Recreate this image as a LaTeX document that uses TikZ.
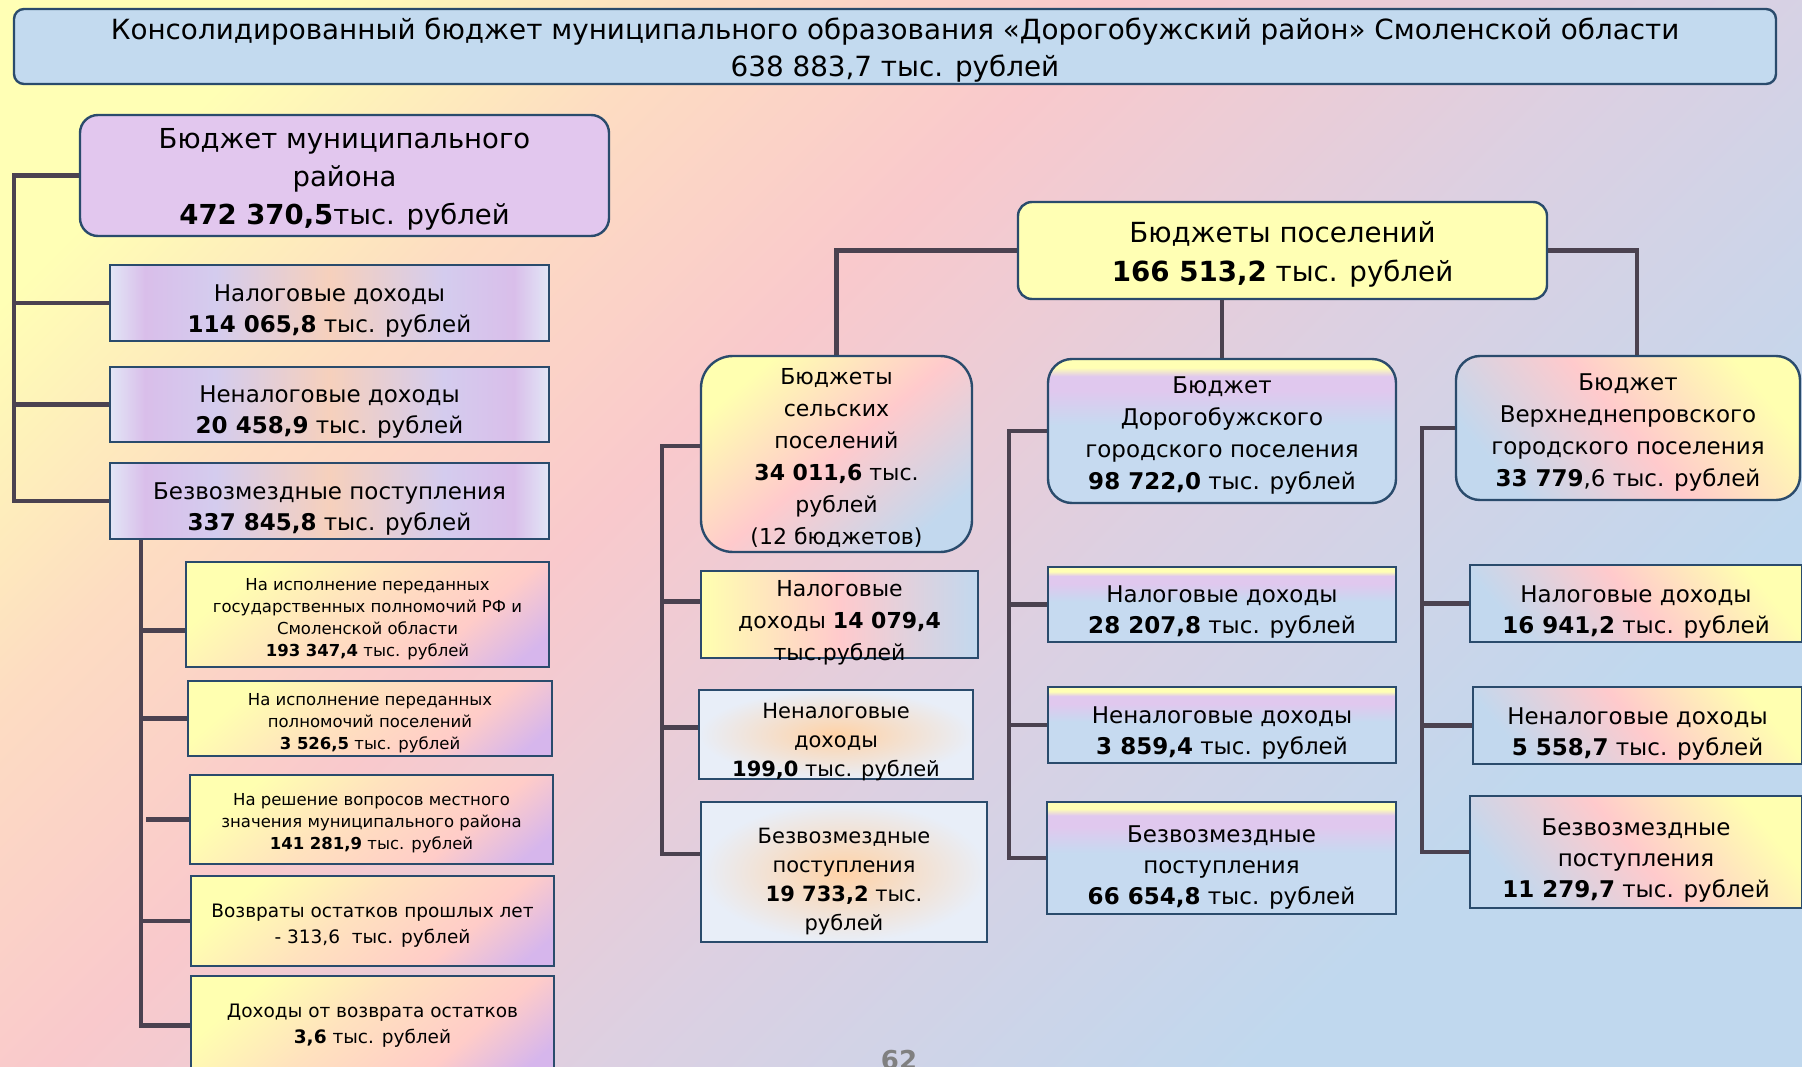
\documentclass[tikz,border=0pt]{standalone}
\usepackage{fontspec}
\setmainfont{DejaVu Sans}
\usetikzlibrary{shapes.misc,calc}
\definecolor{bgY}{HTML}{FFFFB5}
\definecolor{bgPe}{HTML}{FDDCC2}
\definecolor{bgP}{HTML}{F9C9CC}
\definecolor{bgL}{HTML}{DCD0E2}
\definecolor{bgB}{HTML}{C0D8EE}
\definecolor{bord}{HTML}{2A4B6C}
\definecolor{connc}{HTML}{4B4250}
\definecolor{titlefill}{HTML}{C3DAEF}
\definecolor{munifill}{HTML}{E2C7EE}
\definecolor{setfill}{HTML}{FFFFB4}
\definecolor{eb}{HTML}{E2E6F6}
\definecolor{lv}{HTML}{D9BEEA}
\definecolor{lvb}{HTML}{D4CCEE}
\definecolor{pc}{HTML}{F6D0BC}
\definecolor{subY}{HTML}{FFFFB0}
\definecolor{subPe}{HTML}{FFE2BE}
\definecolor{subP}{HTML}{FFCCC8}
\definecolor{subL}{HTML}{D6B6EC}
\definecolor{dY}{HTML}{FFFFB4}
\definecolor{dL}{HTML}{E0C8EE}
\definecolor{dB}{HTML}{C6DAF0}
\definecolor{vY}{HTML}{FFFFB0}
\definecolor{vP}{HTML}{FFCACC}
\definecolor{vB}{HTML}{C2D8EE}
\definecolor{oC}{HTML}{FFD2A6}
\definecolor{oE}{HTML}{E8EEF8}
\definecolor{pgnum}{HTML}{808080}
\pgfdeclareverticalshading{bgsh}{100bp}{color(0bp)=(bgB); color(28bp)=(bgB); color(44bp)=(bgL); color(58bp)=(bgP); color(68bp)=(bgPe); color(78bp)=(bgY); color(100bp)=(bgY)}
\pgfdeclarehorizontalshading{lblur}{100bp}{color(0bp)=(eb); color(25bp)=(eb); color(29bp)=(lv); color(37bp)=(lvb); color(50bp)=(pc); color(63bp)=(lvb); color(71bp)=(lv); color(75bp)=(eb); color(100bp)=(eb)}
\pgfdeclareverticalshading{dorogsh}{100bp}{color(0bp)=(dB); color(25bp)=(dB); color(52bp)=(dB); color(64bp)=(dL); color(69bp)=(dL); color(72bp)=(dY); color(75bp)=(dY); color(100bp)=(dY)}
\pgfdeclareverticalshading{subsh}{100bp}{color(0bp)=(subL); color(20bp)=(subL); color(34bp)=(subP); color(55bp)=(subPe); color(74bp)=(subY); color(100bp)=(subY)}
\begin{document}
\begin{tikzpicture}[x=1pt,y=-1pt,
  box/.style={draw=bord, line width=2.4pt, inner sep=0pt},
  txt/.style={align=center, inner sep=0pt, text=black},
  snip/.style={chamfered rectangle, chamfered rectangle corners=north east, chamfered rectangle xsep=11pt},
  conn/.style={draw=connc, line width=4.5pt},
  fbig/.style={font=\fontsize{27.5}{38}\selectfont},
  fmid/.style={font=\fontsize{23}{31}\selectfont},
  fsmall/.style={font=\fontsize{16.5}{22}\selectfont},
  fsub/.style={font=\fontsize{18.5}{26}\selectfont},
  leftbox/.style={box, snip, shade, shading=lblur},
  subbox/.style={box, shade, shading=subsh, shading angle=40},
  dbox/.style={box, shade, shading=dorogsh},
  vbox/.style={box, shade, top color=vY, bottom color=vB, middle color=vP, shading angle=-50},
  obox/.style={box, snip, shade, inner color=oC, outer color=oE}
]
\useasboundingbox (0,0) rectangle (1802,1067);
\clip (0,0) rectangle (1802,1067);
\shade[shading=bgsh, shading angle=45] (0,0) rectangle (1802,1067);

% title
\node[box, fill=titlefill, rounded corners=10pt, minimum width=1762pt, minimum height=75pt] (title) at (895,46.5) {};
\node[txt, font=\fontsize{27.8}{37}\selectfont] (titlet) at ([yshift=-3.5pt]title.center)
  {Консолидированный бюджет муниципального образования «Дорогобужский район» Смоленской области\\638 883,7 тыс. рублей};

% municipal district
\node[box, fill=munifill, rounded corners=18pt, minimum width=529pt, minimum height=121pt] (muni) at (344.5,175.5) {};
\node[txt, fbig] (munit) at ([yshift=-3.5pt]muni.center)
  {Бюджет муниципального\\района\\\textbf{472 370,5}тыс. рублей};
\node[leftbox, minimum width=439pt, minimum height=76pt] (taxL) at (329.5,303) {};
\node[txt, fmid] (taxLt) at ([yshift=-8pt]taxL.center) {Налоговые доходы\\\textbf{114 065,8} тыс. рублей};
\node[leftbox, minimum width=439pt, minimum height=75pt] (nonL) at (329.5,404.5) {};
\node[txt, fmid] (nonLt) at ([yshift=-8pt]nonL.center) {Неналоговые доходы\\\textbf{20 458,9} тыс. рублей};
\node[leftbox, minimum width=439pt, minimum height=76pt] (bezvL) at (329.5,501) {};
\node[txt, fmid] (bezvLt) at ([yshift=-8pt]bezvL.center) {Безвозмездные поступления\\\textbf{337 845,8} тыс. рублей};

\node[subbox, minimum width=363pt, minimum height=105pt] (s1) at (367.5,614.5) {};
\node[txt, fsmall] (s1t) at ([yshift=-4.5pt]s1.center)
  {На исполнение переданных\\государственных полномочий РФ и\\Смоленской области\\\textbf{193 347,4} тыс. рублей};
\node[subbox, minimum width=364pt, minimum height=75pt] (s2) at (370,718.5) {};
\node[txt, fsmall] (s2t) at ([yshift=-5pt]s2.center)
  {На исполнение переданных\\полномочий поселений\\\textbf{3 526,5} тыс. рублей};
\node[subbox, minimum width=363pt, minimum height=89pt] (s3) at (371.5,819.5) {};
\node[txt, fsmall] (s3t) at ([yshift=-3.5pt]s3.center)
  {На решение вопросов местного\\значения муниципального района\\\textbf{141 281,9} тыс. рублей};
\node[subbox, minimum width=363pt, minimum height=90pt] (s4) at (372.5,921) {};
\node[txt, fsub] (s4t) at ([yshift=-4.5pt]s4.center)
  {Возвраты остатков прошлых лет\\- 313,6~~тыс. рублей};
\node[subbox, minimum width=363pt, minimum height=99pt] (s5) at (372.5,1025.5) {};
\node[txt, fsub] (s5t) at (s5.center)
  {Доходы от возврата остатков\\\textbf{3,6} тыс. рублей};

% settlements
\node[box, fill=setfill, rounded corners=14pt, minimum width=529pt, minimum height=97pt] (set) at (1282.5,250.5) {};
\node[txt, font=\fontsize{27.7}{39}\selectfont] (sett) at ([yshift=-4pt]set.center)
  {Бюджеты поселений\\\textbf{166 513,2} тыс. рублей};

% rural
\node[box, rounded corners=32pt, shade, top color=vY, bottom color=vB, middle color=vP, shading angle=40, minimum width=271pt, minimum height=196pt] (rural) at (836.5,454) {};
\node[txt, font=\fontsize{22}{32}\selectfont] (ruralt) at ([yshift=-3.5pt]rural.center)
  {Бюджеты\\сельских\\поселений\\\textbf{34 011,6} тыс.\\рублей\\(12 бюджетов)};
\node[box, snip, shade, left color=vY, right color=vB, middle color=vP, minimum width=277pt, minimum height=87pt] (rtax) at (839.5,614.5) {};
\node[txt, font=\fontsize{22}{32}\selectfont] (rtaxt) at ([yshift=-8.5pt]rtax.center)
  {Налоговые\\доходы \textbf{14 079,4}\\тыс.рублей};
\node[obox, minimum width=274pt, minimum height=89pt] (rnon) at (836,734.5) {};
\node[txt, font=\fontsize{21}{29}\selectfont] (rnont) at ([yshift=-7.5pt]rnon.center)
  {Неналоговые\\доходы\\\textbf{199,0} тыс. рублей};
\node[obox, minimum width=286pt, minimum height=140pt] (rbez) at (844,872) {};
\node[txt, font=\fontsize{21}{29}\selectfont] (rbezt) at ([yshift=-10pt]rbez.center)
  {Безвозмездные\\поступления\\\textbf{19 733,2} тыс.\\рублей};

% Dorogobuzh
\node[dbox, rounded corners=24pt, minimum width=348pt, minimum height=144pt] (dorog) at (1222,431) {};
\node[txt, font=\fontsize{23}{32}\selectfont] (dorogt) at ([yshift=-5pt]dorog.center)
  {Бюджет\\Дорогобужского\\городского поселения\\\textbf{98 722,0} тыс. рублей};
\node[dbox, snip, minimum width=348pt, minimum height=75pt] (dtax) at (1222,604.5) {};
\node[txt, fmid] (dtaxt) at ([yshift=-8pt]dtax.center) {Налоговые доходы\\\textbf{28 207,8} тыс. рублей};
\node[dbox, snip, minimum width=348pt, minimum height=76pt] (dnon) at (1222,725) {};
\node[txt, fmid] (dnont) at ([yshift=-8pt]dnon.center) {Неналоговые доходы\\\textbf{3 859,4} тыс. рублей};
\node[dbox, snip, minimum width=349pt, minimum height=112pt] (dbez) at (1221.5,858) {};
\node[txt, fmid] (dbezt) at ([yshift=-10pt]dbez.center) {Безвозмездные\\поступления\\\textbf{66 654,8} тыс. рублей};

% Verkhnedneprovsky
\node[vbox, rounded corners=24pt, minimum width=344pt, minimum height=144pt] (verkh) at (1628,428) {};
\node[txt, font=\fontsize{23}{32}\selectfont] (verkht) at ([yshift=-5pt]verkh.center)
  {Бюджет\\Верхнеднепровского\\городского поселения\\\textbf{33 779},6 тыс. рублей};
\node[vbox, snip, minimum width=332pt, minimum height=77pt] (vtax) at (1636,603.5) {};
\node[txt, fmid] (vtaxt) at ([yshift=-8.5pt]vtax.center) {Налоговые доходы\\\textbf{16 941,2} тыс. рублей};
\node[vbox, snip, minimum width=329pt, minimum height=77pt] (vnon) at (1637.5,725.5) {};
\node[txt, fmid] (vnont) at ([yshift=-8.5pt]vnon.center) {Неналоговые доходы\\\textbf{5 558,7} тыс. рублей};
\node[vbox, snip, minimum width=332pt, minimum height=112pt] (vbez) at (1636,852) {};
\node[txt, fmid] (vbezt) at ([yshift=-8.5pt]vbez.center) {Безвозмездные\\поступления\\\textbf{11 279,7} тыс. рублей};

% page number
\node[font=\fontsize{26}{30}\selectfont\bfseries, text=pgnum, anchor=base, inner sep=0pt] (page) at (899,1069) {62};

% connectors: municipal district
\coordinate (L0) at (14,0);
\coordinate (L1) at (141,0);
\draw[conn] (muni.west) -| (L0 |- bezvL.west) -- (bezvL.west);
\draw[conn] (taxL.west) -- (taxL.west -| L0);
\draw[conn] (nonL.west) -- (nonL.west -| L0);
\draw[conn] (bezvL.south -| L1) |- (s5.west);
\draw[conn] ([yshift=-16pt]s1.west) -- +(-45,0);
\draw[conn] (s2.west) -- (s2.west -| L1);
\draw[conn] (s3.west) -- +(-43,0);
\draw[conn] (s4.west) -- (s4.west -| L1);

% connectors: settlements
\draw[conn] (set.west) -| (rural.north);
\draw[conn] (dorog.north) -- (dorog.north |- set.south);
\draw[conn] (set.east) -| ([xshift=9pt]verkh.north);

\coordinate (R0) at (662,0);
\coordinate (rb1) at ([yshift=18pt]rbez.west);
\draw[conn] ([yshift=8pt]rural.west) -| (R0 |- rb1) -- (rb1);
\draw[conn] ([yshift=13pt]rtax.west) -- +(-39,0);
\draw[conn] ([yshift=7pt]rnon.west) -- +(-37,0);

\coordinate (D0) at (1009,0);
\draw[conn] (dorog.west) -| (D0 |- dbez.west) -- (dbez.west);
\draw[conn] (dtax.west) -- (dtax.west -| D0);
\draw[conn] (dnon.west) -- (dnon.west -| D0);

\coordinate (V0) at (1422,0);
\draw[conn] (verkh.west) -| (V0 |- vbez.west) -- (vbez.west);
\draw[conn] (vtax.west) -- (vtax.west -| V0);
\draw[conn] (vnon.west) -- (vnon.west -| V0);
\end{tikzpicture}
\end{document}
